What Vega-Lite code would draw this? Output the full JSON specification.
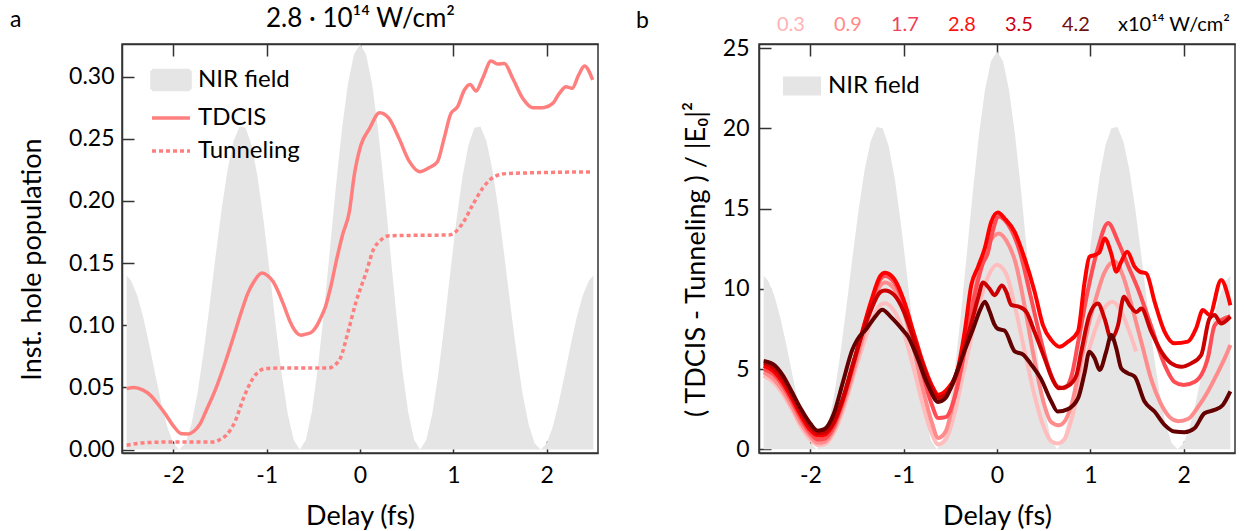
{
  "$schema": "https://vega.github.io/schema/vega-lite/v6.json",
  "padding": {"left": 9, "top": 4, "right": 0, "bottom": 0},
  "spacing": 161,
  "bounds": "flush",
  "resolve": {"scale": {"color": "independent", "fill": "independent"}, "legend": {"color": "independent", "fill": "independent"}},
  "config": {
    "font": "Lato",
    "view": {"stroke": "#333333", "strokeWidth": 1.5},
    "axis": {"domainColor": "#333333", "domainWidth": 1.5, "tickColor": "#333333", "tickWidth": 1.5, "tickSize": -12, "labelFontSize": 23, "labelColor": "black", "titleFontSize": 27, "titleFontWeight": "normal", "titleColor": "black", "grid": false, "labelFlush": false},
    "title": {"fontSize": 23, "fontWeight": "normal", "color": "black", "anchor": "start", "frame": "group"}
  },
  "datasets": {
    "nir": [
      {"t": -2.5, "a": 0.1401, "b": 10.821}, {"t": -2.451, "a": 0.1357, "b": 10.486}, {"t": -2.3865, "a": 0.1239, "b": 9.575}, {"t": -2.322, "a": 0.1062, "b": 8.203}, {"t": -2.2575, "a": 0.0842, "b": 6.505}, {"t": -2.193, "a": 0.0603, "b": 4.661}, {"t": -2.1285, "a": 0.0373, "b": 2.881}, {"t": -2.064, "a": 0.0179, "b": 1.381}, {"t": -1.9995, "a": 0.0047, "b": 0.366}, {"t": -1.935, "a": 0, "b": 0},
      {"t": -1.8705, "a": 0.005, "b": 0.39}, {"t": -1.806, "a": 0.0203, "b": 1.567}, {"t": -1.7415, "a": 0.0451, "b": 3.482}, {"t": -1.677, "a": 0.0777, "b": 6.002}, {"t": -1.6125, "a": 0.1155, "b": 8.923}, {"t": -1.548, "a": 0.1551, "b": 11.985}, {"t": -1.4835, "a": 0.1929, "b": 14.902}, {"t": -1.419, "a": 0.225, "b": 17.385}, {"t": -1.3545, "a": 0.2483, "b": 19.18}, {"t": -1.29, "a": 0.26, "b": 20.09},
      {"t": -1.2255, "a": 0.2589, "b": 20.005}, {"t": -1.161, "a": 0.2448, "b": 18.913}, {"t": -1.0965, "a": 0.2189, "b": 16.909}, {"t": -1.032, "a": 0.1836, "b": 14.185}, {"t": -0.9675, "a": 0.1426, "b": 11.014}, {"t": -0.903, "a": 0.1, "b": 7.728}, {"t": -0.8385, "a": 0.0605, "b": 4.676}, {"t": -0.774, "a": 0.0284, "b": 2.195}, {"t": -0.7095, "a": 0.0074, "b": 0.569}, {"t": -0.645, "a": 0, "b": 0},
      {"t": -0.5805, "a": 0.0076, "b": 0.582}, {"t": -0.516, "a": 0.0301, "b": 2.29}, {"t": -0.4515, "a": 0.0655, "b": 4.981}, {"t": -0.387, "a": 0.1105, "b": 8.407}, {"t": -0.3225, "a": 0.1609, "b": 12.238}, {"t": -0.258, "a": 0.2116, "b": 16.096}, {"t": -0.1935, "a": 0.2577, "b": 19.595}, {"t": -0.129, "a": 0.2943, "b": 22.385}, {"t": -0.0645, "a": 0.318, "b": 24.18}, {"t": 0, "a": 0.326, "b": 24.8},
      {"t": 0.0645, "a": 0.318, "b": 24.18}, {"t": 0.129, "a": 0.2943, "b": 22.385}, {"t": 0.1935, "a": 0.2577, "b": 19.595}, {"t": 0.258, "a": 0.2116, "b": 16.096}, {"t": 0.3225, "a": 0.1609, "b": 12.238}, {"t": 0.387, "a": 0.1105, "b": 8.407}, {"t": 0.4515, "a": 0.0655, "b": 4.981}, {"t": 0.516, "a": 0.0301, "b": 2.29}, {"t": 0.5805, "a": 0.0076, "b": 0.582}, {"t": 0.645, "a": 0, "b": 0},
      {"t": 0.7095, "a": 0.0074, "b": 0.569}, {"t": 0.774, "a": 0.0284, "b": 2.195}, {"t": 0.8385, "a": 0.0605, "b": 4.676}, {"t": 0.903, "a": 0.1, "b": 7.728}, {"t": 0.9675, "a": 0.1426, "b": 11.014}, {"t": 1.032, "a": 0.1836, "b": 14.185}, {"t": 1.0965, "a": 0.2189, "b": 16.909}, {"t": 1.161, "a": 0.2448, "b": 18.913}, {"t": 1.2255, "a": 0.2589, "b": 20.005}, {"t": 1.29, "a": 0.26, "b": 20.09},
      {"t": 1.3545, "a": 0.2483, "b": 19.18}, {"t": 1.419, "a": 0.225, "b": 17.385}, {"t": 1.4835, "a": 0.1929, "b": 14.902}, {"t": 1.548, "a": 0.1551, "b": 11.985}, {"t": 1.6125, "a": 0.1155, "b": 8.923}, {"t": 1.677, "a": 0.0777, "b": 6.002}, {"t": 1.7415, "a": 0.0451, "b": 3.482}, {"t": 1.806, "a": 0.0203, "b": 1.567}, {"t": 1.8705, "a": 0.005, "b": 0.39}, {"t": 1.935, "a": 0, "b": 0},
      {"t": 1.9995, "a": 0.0047, "b": 0.366}, {"t": 2.064, "a": 0.0179, "b": 1.381}, {"t": 2.1285, "a": 0.0373, "b": 2.881}, {"t": 2.193, "a": 0.0603, "b": 4.661}, {"t": 2.2575, "a": 0.0842, "b": 6.505}, {"t": 2.322, "a": 0.1062, "b": 8.203}, {"t": 2.3865, "a": 0.1239, "b": 9.575}, {"t": 2.451, "a": 0.1357, "b": 10.486}, {"t": 2.5, "a": 0.1401, "b": 10.821}
    ],
    "tdcis": [
      {"t": -2.5, "v": 0.049}, {"t": -2.42, "v": 0.05}, {"t": -2.33, "v": 0.048}, {"t": -2.25, "v": 0.044}, {"t": -2.16, "v": 0.036}, {"t": -2.08, "v": 0.028}, {"t": -2.0, "v": 0.019}, {"t": -1.91, "v": 0.0126}, {"t": -1.84, "v": 0.0125}, {"t": -1.78, "v": 0.0147}, {"t": -1.71, "v": 0.021}, {"t": -1.65, "v": 0.031}, {"t": -1.55, "v": 0.048}, {"t": -1.44, "v": 0.071}, {"t": -1.35, "v": 0.092}, {"t": -1.27, "v": 0.111}, {"t": -1.2, "v": 0.126}, {"t": -1.145, "v": 0.134}, {"t": -1.05, "v": 0.142}, {"t": -0.99, "v": 0.14}, {"t": -0.93, "v": 0.135}, {"t": -0.87, "v": 0.126}, {"t": -0.806, "v": 0.114}, {"t": -0.75, "v": 0.103}, {"t": -0.7, "v": 0.096}, {"t": -0.63, "v": 0.092}, {"t": -0.57, "v": 0.093}, {"t": -0.51, "v": 0.095}, {"t": -0.46, "v": 0.1}, {"t": -0.42, "v": 0.106}, {"t": -0.37, "v": 0.115}, {"t": -0.31, "v": 0.132}, {"t": -0.25, "v": 0.153}, {"t": -0.186, "v": 0.173}, {"t": -0.115, "v": 0.191}, {"t": -0.061, "v": 0.221}, {"t": 0.01, "v": 0.245}, {"t": 0.1, "v": 0.258}, {"t": 0.21, "v": 0.271}, {"t": 0.31, "v": 0.2665}, {"t": 0.42, "v": 0.25}, {"t": 0.53, "v": 0.2316}, {"t": 0.64, "v": 0.2236}, {"t": 0.74, "v": 0.2268}, {"t": 0.83, "v": 0.2316}, {"t": 0.9, "v": 0.25}, {"t": 0.975, "v": 0.2705}, {"t": 1.046, "v": 0.2759}, {"t": 1.118, "v": 0.2893}, {"t": 1.179, "v": 0.2938}, {"t": 1.243, "v": 0.2885}, {"t": 1.314, "v": 0.2987}, {"t": 1.404, "v": 0.3126}, {"t": 1.475, "v": 0.3102}, {"t": 1.547, "v": 0.3107}, {"t": 1.636, "v": 0.2987}, {"t": 1.743, "v": 0.2826}, {"t": 1.85, "v": 0.2751}, {"t": 1.957, "v": 0.2751}, {"t": 2.064, "v": 0.2785}, {"t": 2.136, "v": 0.2866}, {"t": 2.208, "v": 0.292}, {"t": 2.272, "v": 0.2906}, {"t": 2.343, "v": 0.3014}, {"t": 2.404, "v": 0.3086}, {"t": 2.493, "v": 0.2974}
    ],
    "tunnel": [
      {"t": -2.5, "v": 0.0035}, {"t": -2.33, "v": 0.0053}, {"t": -2.08, "v": 0.006}, {"t": -1.57, "v": 0.006}, {"t": -1.5, "v": 0.008}, {"t": -1.44, "v": 0.011}, {"t": -1.336, "v": 0.023}, {"t": -1.25, "v": 0.041}, {"t": -1.145, "v": 0.0575}, {"t": -1.02, "v": 0.065}, {"t": -0.89, "v": 0.0655}, {"t": -0.34, "v": 0.0655}, {"t": -0.27, "v": 0.068}, {"t": -0.21, "v": 0.0735}, {"t": -0.127, "v": 0.095}, {"t": -0.042, "v": 0.119}, {"t": 0.064, "v": 0.142}, {"t": 0.15, "v": 0.162}, {"t": 0.207, "v": 0.1673}, {"t": 0.314, "v": 0.172}, {"t": 0.957, "v": 0.1727}, {"t": 1.1, "v": 0.182}, {"t": 1.207, "v": 0.1968}, {"t": 1.314, "v": 0.2102}, {"t": 1.44, "v": 0.2196}, {"t": 1.565, "v": 0.222}, {"t": 2.47, "v": 0.2234}
    ],
    "diff": [
      {"I": "0.3", "t": -2.5, "v": 4.6}, {"I": "0.3", "t": -2.4, "v": 4.2}, {"I": "0.3", "t": -2.3, "v": 3.5}, {"I": "0.3", "t": -2.2, "v": 2.5}, {"I": "0.3", "t": -2.1, "v": 1.4}, {"I": "0.3", "t": -2.0, "v": 0.6}, {"I": "0.3", "t": -1.92, "v": 0.25}, {"I": "0.3", "t": -1.85, "v": 0.3}, {"I": "0.3", "t": -1.75, "v": 1.0}, {"I": "0.3", "t": -1.65, "v": 2.4}, {"I": "0.3", "t": -1.55, "v": 4.3}, {"I": "0.3", "t": -1.45, "v": 6.2}, {"I": "0.3", "t": -1.35, "v": 7.9}, {"I": "0.3", "t": -1.25, "v": 9.0}, {"I": "0.3", "t": -1.2, "v": 9.1}, {"I": "0.3", "t": -1.1, "v": 8.6}, {"I": "0.3", "t": -1.0, "v": 7.3}, {"I": "0.3", "t": -0.9, "v": 5.2}, {"I": "0.3", "t": -0.8, "v": 2.9}, {"I": "0.3", "t": -0.7, "v": 1.0}, {"I": "0.3", "t": -0.63, "v": 0.3}, {"I": "0.3", "t": -0.55, "v": 0.6}, {"I": "0.3", "t": -0.46, "v": 2.1}, {"I": "0.3", "t": -0.38, "v": 4.2}, {"I": "0.3", "t": -0.3, "v": 6.3}, {"I": "0.3", "t": -0.2, "v": 8.8}, {"I": "0.3", "t": -0.1, "v": 10.7}, {"I": "0.3", "t": 0.0, "v": 11.5}, {"I": "0.3", "t": 0.1, "v": 10.9}, {"I": "0.3", "t": 0.2, "v": 8.7}, {"I": "0.3", "t": 0.3, "v": 6.0}, {"I": "0.3", "t": 0.4, "v": 3.4}, {"I": "0.3", "t": 0.5, "v": 1.4}, {"I": "0.3", "t": 0.58, "v": 0.5}, {"I": "0.3", "t": 0.65, "v": 0.35}, {"I": "0.3", "t": 0.72, "v": 0.6}, {"I": "0.3", "t": 0.8, "v": 1.9}, {"I": "0.3", "t": 0.9, "v": 4.3}, {"I": "0.3", "t": 1.0, "v": 6.5}, {"I": "0.3", "t": 1.05, "v": 7.4}, {"I": "0.3", "t": 1.15, "v": 8.8}, {"I": "0.3", "t": 1.24, "v": 9.2}, {"I": "0.3", "t": 1.33, "v": 8.6}, {"I": "0.3", "t": 1.42, "v": 7.3}, {"I": "0.3", "t": 1.49, "v": 6.1},
      {"I": "0.9", "t": -2.5, "v": 4.8}, {"I": "0.9", "t": -2.4, "v": 4.4}, {"I": "0.9", "t": -2.3, "v": 3.7}, {"I": "0.9", "t": -2.2, "v": 2.7}, {"I": "0.9", "t": -2.1, "v": 1.6}, {"I": "0.9", "t": -2.0, "v": 0.8}, {"I": "0.9", "t": -1.92, "v": 0.4}, {"I": "0.9", "t": -1.85, "v": 0.45}, {"I": "0.9", "t": -1.75, "v": 1.2}, {"I": "0.9", "t": -1.65, "v": 2.7}, {"I": "0.9", "t": -1.55, "v": 4.6}, {"I": "0.9", "t": -1.45, "v": 6.7}, {"I": "0.9", "t": -1.35, "v": 8.7}, {"I": "0.9", "t": -1.25, "v": 10.2}, {"I": "0.9", "t": -1.2, "v": 10.4}, {"I": "0.9", "t": -1.1, "v": 10.0}, {"I": "0.9", "t": -1.0, "v": 8.6}, {"I": "0.9", "t": -0.9, "v": 6.4}, {"I": "0.9", "t": -0.8, "v": 3.9}, {"I": "0.9", "t": -0.7, "v": 1.7}, {"I": "0.9", "t": -0.63, "v": 0.7}, {"I": "0.9", "t": -0.55, "v": 1.1}, {"I": "0.9", "t": -0.48, "v": 2.6}, {"I": "0.9", "t": -0.38, "v": 5.5}, {"I": "0.9", "t": -0.3, "v": 8.0}, {"I": "0.9", "t": -0.24, "v": 9.8}, {"I": "0.9", "t": -0.16, "v": 11.8}, {"I": "0.9", "t": -0.1, "v": 12.7}, {"I": "0.9", "t": -0.03, "v": 13.3}, {"I": "0.9", "t": 0.02, "v": 13.45}, {"I": "0.9", "t": 0.1, "v": 13.0}, {"I": "0.9", "t": 0.2, "v": 11.6}, {"I": "0.9", "t": 0.3, "v": 8.8}, {"I": "0.9", "t": 0.4, "v": 5.6}, {"I": "0.9", "t": 0.5, "v": 2.9}, {"I": "0.9", "t": 0.58, "v": 1.7}, {"I": "0.9", "t": 0.66, "v": 1.5}, {"I": "0.9", "t": 0.72, "v": 1.7}, {"I": "0.9", "t": 0.8, "v": 2.8}, {"I": "0.9", "t": 0.9, "v": 5.5}, {"I": "0.9", "t": 1.0, "v": 8.2}, {"I": "0.9", "t": 1.05, "v": 9.2}, {"I": "0.9", "t": 1.15, "v": 11.0}, {"I": "0.9", "t": 1.26, "v": 11.7}, {"I": "0.9", "t": 1.35, "v": 10.8}, {"I": "0.9", "t": 1.45, "v": 8.8}, {"I": "0.9", "t": 1.55, "v": 6.6}, {"I": "0.9", "t": 1.65, "v": 4.4}, {"I": "0.9", "t": 1.75, "v": 2.9}, {"I": "0.9", "t": 1.85, "v": 2.0}, {"I": "0.9", "t": 1.94, "v": 1.75}, {"I": "0.9", "t": 2.05, "v": 1.9}, {"I": "0.9", "t": 2.15, "v": 2.6}, {"I": "0.9", "t": 2.26, "v": 3.6}, {"I": "0.9", "t": 2.35, "v": 4.6}, {"I": "0.9", "t": 2.45, "v": 5.8}, {"I": "0.9", "t": 2.5, "v": 6.5},
      {"I": "1.7", "t": -2.5, "v": 5.0}, {"I": "1.7", "t": -2.4, "v": 4.7}, {"I": "1.7", "t": -2.3, "v": 4.0}, {"I": "1.7", "t": -2.2, "v": 3.0}, {"I": "1.7", "t": -2.1, "v": 1.9}, {"I": "1.7", "t": -2.0, "v": 1.0}, {"I": "1.7", "t": -1.92, "v": 0.6}, {"I": "1.7", "t": -1.85, "v": 0.65}, {"I": "1.7", "t": -1.75, "v": 1.4}, {"I": "1.7", "t": -1.65, "v": 3.0}, {"I": "1.7", "t": -1.55, "v": 5.0}, {"I": "1.7", "t": -1.45, "v": 7.1}, {"I": "1.7", "t": -1.35, "v": 9.1}, {"I": "1.7", "t": -1.25, "v": 10.6}, {"I": "1.7", "t": -1.2, "v": 10.8}, {"I": "1.7", "t": -1.1, "v": 10.4}, {"I": "1.7", "t": -1.0, "v": 9.1}, {"I": "1.7", "t": -0.9, "v": 7.1}, {"I": "1.7", "t": -0.8, "v": 4.8}, {"I": "1.7", "t": -0.7, "v": 2.8}, {"I": "1.7", "t": -0.63, "v": 1.95}, {"I": "1.7", "t": -0.55, "v": 2.0}, {"I": "1.7", "t": -0.45, "v": 3.3}, {"I": "1.7", "t": -0.35, "v": 6.0}, {"I": "1.7", "t": -0.25, "v": 9.3}, {"I": "1.7", "t": -0.2, "v": 10.6}, {"I": "1.7", "t": -0.15, "v": 11.6}, {"I": "1.7", "t": -0.1, "v": 12.2}, {"I": "1.7", "t": -0.05, "v": 13.5}, {"I": "1.7", "t": 0.02, "v": 14.5}, {"I": "1.7", "t": 0.08, "v": 14.3}, {"I": "1.7", "t": 0.15, "v": 13.7}, {"I": "1.7", "t": 0.25, "v": 12.2}, {"I": "1.7", "t": 0.35, "v": 9.8}, {"I": "1.7", "t": 0.45, "v": 7.3}, {"I": "1.7", "t": 0.55, "v": 5.1}, {"I": "1.7", "t": 0.65, "v": 3.9}, {"I": "1.7", "t": 0.72, "v": 3.8}, {"I": "1.7", "t": 0.8, "v": 4.6}, {"I": "1.7", "t": 0.87, "v": 6.7}, {"I": "1.7", "t": 0.97, "v": 9.8}, {"I": "1.7", "t": 1.08, "v": 12.5}, {"I": "1.7", "t": 1.19, "v": 14.1}, {"I": "1.7", "t": 1.3, "v": 12.9}, {"I": "1.7", "t": 1.4, "v": 11.5}, {"I": "1.7", "t": 1.51, "v": 10.0}, {"I": "1.7", "t": 1.65, "v": 7.7}, {"I": "1.7", "t": 1.8, "v": 5.2}, {"I": "1.7", "t": 1.9, "v": 4.2}, {"I": "1.7", "t": 2.0, "v": 4.0}, {"I": "1.7", "t": 2.12, "v": 4.2}, {"I": "1.7", "t": 2.26, "v": 5.7}, {"I": "1.7", "t": 2.33, "v": 7.7}, {"I": "1.7", "t": 2.4, "v": 8.05}, {"I": "1.7", "t": 2.5, "v": 8.3},
      {"I": "2.8", "t": -2.5, "v": 5.2}, {"I": "2.8", "t": -2.4, "v": 4.9}, {"I": "2.8", "t": -2.3, "v": 4.2}, {"I": "2.8", "t": -2.2, "v": 3.2}, {"I": "2.8", "t": -2.1, "v": 2.1}, {"I": "2.8", "t": -2.0, "v": 1.2}, {"I": "2.8", "t": -1.92, "v": 0.85}, {"I": "2.8", "t": -1.85, "v": 0.9}, {"I": "2.8", "t": -1.75, "v": 1.6}, {"I": "2.8", "t": -1.65, "v": 3.1}, {"I": "2.8", "t": -1.55, "v": 5.1}, {"I": "2.8", "t": -1.45, "v": 7.2}, {"I": "2.8", "t": -1.35, "v": 9.2}, {"I": "2.8", "t": -1.25, "v": 10.8}, {"I": "2.8", "t": -1.2, "v": 11.0}, {"I": "2.8", "t": -1.1, "v": 10.6}, {"I": "2.8", "t": -1.0, "v": 9.3}, {"I": "2.8", "t": -0.9, "v": 7.4}, {"I": "2.8", "t": -0.8, "v": 5.5}, {"I": "2.8", "t": -0.7, "v": 4.0}, {"I": "2.8", "t": -0.63, "v": 3.4}, {"I": "2.8", "t": -0.525, "v": 3.8}, {"I": "2.8", "t": -0.418, "v": 5.05}, {"I": "2.8", "t": -0.346, "v": 7.33}, {"I": "2.8", "t": -0.275, "v": 10.24}, {"I": "2.8", "t": -0.203, "v": 11.37}, {"I": "2.8", "t": -0.132, "v": 12.51}, {"I": "2.8", "t": -0.061, "v": 14.18}, {"I": "2.8", "t": 0.01, "v": 14.75}, {"I": "2.8", "t": 0.082, "v": 14.38}, {"I": "2.8", "t": 0.189, "v": 13.55}, {"I": "2.8", "t": 0.296, "v": 11.89}, {"I": "2.8", "t": 0.403, "v": 9.82}, {"I": "2.8", "t": 0.492, "v": 7.74}, {"I": "2.8", "t": 0.582, "v": 6.8}, {"I": "2.8", "t": 0.671, "v": 6.39}, {"I": "2.8", "t": 0.76, "v": 6.7}, {"I": "2.8", "t": 0.867, "v": 7.33}, {"I": "2.8", "t": 0.939, "v": 10.44}, {"I": "2.8", "t": 0.99, "v": 11.99}, {"I": "2.8", "t": 1.046, "v": 12.1}, {"I": "2.8", "t": 1.1, "v": 12.3}, {"I": "2.8", "t": 1.153, "v": 13.14}, {"I": "2.8", "t": 1.224, "v": 12.2}, {"I": "2.8", "t": 1.278, "v": 11.07}, {"I": "2.8", "t": 1.331, "v": 11.69}, {"I": "2.8", "t": 1.395, "v": 12.31}, {"I": "2.8", "t": 1.474, "v": 11.38}, {"I": "2.8", "t": 1.528, "v": 11.07}, {"I": "2.8", "t": 1.6, "v": 10.96}, {"I": "2.8", "t": 1.688, "v": 9.2}, {"I": "2.8", "t": 1.795, "v": 7.33}, {"I": "2.8", "t": 1.902, "v": 6.6}, {"I": "2.8", "t": 2.045, "v": 6.71}, {"I": "2.8", "t": 2.134, "v": 7.54}, {"I": "2.8", "t": 2.206, "v": 8.68}, {"I": "2.8", "t": 2.277, "v": 8.37}, {"I": "2.8", "t": 2.402, "v": 10.55}, {"I": "2.8", "t": 2.473, "v": 9.6}, {"I": "2.8", "t": 2.5, "v": 8.98},
      {"I": "3.5", "t": -2.5, "v": 5.35}, {"I": "3.5", "t": -2.4, "v": 5.1}, {"I": "3.5", "t": -2.3, "v": 4.4}, {"I": "3.5", "t": -2.2, "v": 3.4}, {"I": "3.5", "t": -2.1, "v": 2.3}, {"I": "3.5", "t": -2.0, "v": 1.4}, {"I": "3.5", "t": -1.92, "v": 1.0}, {"I": "3.5", "t": -1.85, "v": 1.05}, {"I": "3.5", "t": -1.75, "v": 1.7}, {"I": "3.5", "t": -1.65, "v": 3.2}, {"I": "3.5", "t": -1.55, "v": 5.2}, {"I": "3.5", "t": -1.45, "v": 7.1}, {"I": "3.5", "t": -1.35, "v": 8.7}, {"I": "3.5", "t": -1.25, "v": 9.8}, {"I": "3.5", "t": -1.2, "v": 9.9}, {"I": "3.5", "t": -1.1, "v": 9.6}, {"I": "3.5", "t": -1.0, "v": 8.6}, {"I": "3.5", "t": -0.9, "v": 7.0}, {"I": "3.5", "t": -0.8, "v": 5.3}, {"I": "3.5", "t": -0.7, "v": 3.8}, {"I": "3.5", "t": -0.63, "v": 3.2}, {"I": "3.5", "t": -0.55, "v": 3.4}, {"I": "3.5", "t": -0.45, "v": 4.4}, {"I": "3.5", "t": -0.35, "v": 6.3}, {"I": "3.5", "t": -0.25, "v": 8.4}, {"I": "3.5", "t": -0.2, "v": 9.5}, {"I": "3.5", "t": -0.15, "v": 10.4}, {"I": "3.5", "t": -0.08, "v": 10.0}, {"I": "3.5", "t": -0.026, "v": 9.6}, {"I": "3.5", "t": 0.053, "v": 10.2}, {"I": "3.5", "t": 0.1, "v": 9.8}, {"I": "3.5", "t": 0.153, "v": 9.0}, {"I": "3.5", "t": 0.243, "v": 8.87}, {"I": "3.5", "t": 0.314, "v": 8.56}, {"I": "3.5", "t": 0.403, "v": 7.3}, {"I": "3.5", "t": 0.51, "v": 5.67}, {"I": "3.5", "t": 0.6, "v": 4.3}, {"I": "3.5", "t": 0.66, "v": 3.8}, {"I": "3.5", "t": 0.76, "v": 3.95}, {"I": "3.5", "t": 0.85, "v": 4.6}, {"I": "3.5", "t": 0.903, "v": 6.08}, {"I": "3.5", "t": 0.99, "v": 8.36}, {"I": "3.5", "t": 1.081, "v": 9.09}, {"I": "3.5", "t": 1.153, "v": 8.13}, {"I": "3.5", "t": 1.224, "v": 6.88}, {"I": "3.5", "t": 1.296, "v": 7.71}, {"I": "3.5", "t": 1.36, "v": 9.5}, {"I": "3.5", "t": 1.42, "v": 8.98}, {"I": "3.5", "t": 1.492, "v": 8.55}, {"I": "3.5", "t": 1.546, "v": 8.77}, {"I": "3.5", "t": 1.653, "v": 7.33}, {"I": "3.5", "t": 1.76, "v": 6.08}, {"I": "3.5", "t": 1.867, "v": 5.35}, {"I": "3.5", "t": 1.974, "v": 5.14}, {"I": "3.5", "t": 2.081, "v": 5.35}, {"I": "3.5", "t": 2.188, "v": 5.87}, {"I": "3.5", "t": 2.277, "v": 8.15}, {"I": "3.5", "t": 2.33, "v": 8.36}, {"I": "3.5", "t": 2.402, "v": 7.84}, {"I": "3.5", "t": 2.5, "v": 8.26},
      {"I": "4.2", "t": -2.5, "v": 5.5}, {"I": "4.2", "t": -2.4, "v": 5.3}, {"I": "4.2", "t": -2.3, "v": 4.65}, {"I": "4.2", "t": -2.2, "v": 3.6}, {"I": "4.2", "t": -2.1, "v": 2.5}, {"I": "4.2", "t": -2.0, "v": 1.6}, {"I": "4.2", "t": -1.92, "v": 1.15}, {"I": "4.2", "t": -1.85, "v": 1.25}, {"I": "4.2", "t": -1.75, "v": 2.2}, {"I": "4.2", "t": -1.65, "v": 4.2}, {"I": "4.2", "t": -1.55, "v": 6.2}, {"I": "4.2", "t": -1.5, "v": 6.8}, {"I": "4.2", "t": -1.4, "v": 7.5}, {"I": "4.2", "t": -1.3, "v": 8.3}, {"I": "4.2", "t": -1.23, "v": 8.7}, {"I": "4.2", "t": -1.13, "v": 8.2}, {"I": "4.2", "t": -1.02, "v": 7.5}, {"I": "4.2", "t": -0.95, "v": 7.0}, {"I": "4.2", "t": -0.88, "v": 6.1}, {"I": "4.2", "t": -0.74, "v": 4.0}, {"I": "4.2", "t": -0.63, "v": 2.95}, {"I": "4.2", "t": -0.55, "v": 3.2}, {"I": "4.2", "t": -0.45, "v": 4.5}, {"I": "4.2", "t": -0.35, "v": 6.1}, {"I": "4.2", "t": -0.25, "v": 7.6}, {"I": "4.2", "t": -0.18, "v": 8.7}, {"I": "4.2", "t": -0.13, "v": 9.2}, {"I": "4.2", "t": -0.08, "v": 8.6}, {"I": "4.2", "t": -0.03, "v": 7.8}, {"I": "4.2", "t": 0.01, "v": 7.5}, {"I": "4.2", "t": 0.08, "v": 7.4}, {"I": "4.2", "t": 0.19, "v": 6.1}, {"I": "4.2", "t": 0.28, "v": 5.9}, {"I": "4.2", "t": 0.37, "v": 5.25}, {"I": "4.2", "t": 0.47, "v": 4.4}, {"I": "4.2", "t": 0.58, "v": 3.0}, {"I": "4.2", "t": 0.65, "v": 2.35}, {"I": "4.2", "t": 0.76, "v": 2.5}, {"I": "4.2", "t": 0.87, "v": 3.2}, {"I": "4.2", "t": 0.94, "v": 4.8}, {"I": "4.2", "t": 0.99, "v": 6.08}, {"I": "4.2", "t": 1.046, "v": 5.67}, {"I": "4.2", "t": 1.1, "v": 4.94}, {"I": "4.2", "t": 1.17, "v": 6.08}, {"I": "4.2", "t": 1.224, "v": 7.12}, {"I": "4.2", "t": 1.278, "v": 6.29}, {"I": "4.2", "t": 1.331, "v": 5.04}, {"I": "4.2", "t": 1.403, "v": 4.73}, {"I": "4.2", "t": 1.474, "v": 4.53}, {"I": "4.2", "t": 1.581, "v": 2.97}, {"I": "4.2", "t": 1.688, "v": 2.35}, {"I": "4.2", "t": 1.795, "v": 1.52}, {"I": "4.2", "t": 1.902, "v": 1.1}, {"I": "4.2", "t": 2.009, "v": 1.06}, {"I": "4.2", "t": 2.116, "v": 1.31}, {"I": "4.2", "t": 2.223, "v": 2.24}, {"I": "4.2", "t": 2.33, "v": 2.45}, {"I": "4.2", "t": 2.42, "v": 2.76}, {"I": "4.2", "t": 2.5, "v": 3.6}
    ]
  },
  "hconcat": [
    {
      "width": 476,
      "height": 409,
      "title": {"text": "a", "dx": -112, "dy": 31},
      "resolve": {"axis": {"x": "independent"}},
      "layer": [
        {
          "data": {"name": "nir"},
          "mark": {"type": "area", "clip": true},
          "encoding": {
            "x": {"field": "t", "type": "quantitative", "scale": {"domain": [-2.55, 2.55], "nice": false, "zero": false},
                  "axis": {"orient": "bottom", "values": [-2, -1, 0, 1, 2], "labelExpr": "replace(datum.label, '\u2212', '-')", "title": "Delay (fs)", "labelPadding": 23, "titlePadding": 16}},
            "y": {"field": "a", "type": "quantitative", "scale": {"domain": [-0.0028, 0.3263], "nice": false, "zero": false},
                  "axis": {"orient": "left", "values": [0, 0.05, 0.1, 0.15, 0.2, 0.25, 0.3], "format": ".2f", "title": "Inst. hole population", "labelPadding": 20, "titlePadding": 22, "titleY": 215}},
            "color": {"datum": "NIR field", "scale": {"domain": ["NIR field", "TDCIS", "Tunneling"], "range": ["#e5e5e5", "#ff7f7f", "#ff7f7f"]},
                      "legend": {"orient": "none", "legendX": 28, "legendY": 15, "title": null, "symbolSize": 1444, "labelFontSize": 24, "labelColor": "black", "labelOffset": 6, "rowPadding": 0, "labelBaseline": "middle",
                        "encode": {"symbols": {"update": {
                          "shape": {"signal": "datum.value === 'NIR field' ? 'M-1,-0.5H1V0.5H-1Z' : 'stroke'"},
                          "fill": {"signal": "datum.value === 'NIR field' ? '#e5e5e5' : 'transparent'"},
                          "stroke": {"signal": "datum.value === 'NIR field' ? 'transparent' : '#ff7f7f'"},
                          "strokeWidth": {"value": 3.5},
                          "strokeDash": {"signal": "datum.value === 'Tunneling' ? [4, 3] : [1, 0]"},
                          "opacity": {"value": 1}
                        }}}}}
          }
        },
        {
          "data": {"name": "tdcis"},
          "mark": {"type": "line", "strokeWidth": 3.5, "interpolate": "monotone", "clip": true},
          "encoding": {
            "x": {"field": "t", "type": "quantitative", "axis": {"orient": "top", "values": [-2, -1, 0, 1, 2], "labels": false, "title": "2.8 ∙ 10¹⁴ W/cm²", "titleFontSize": 26, "titlePadding": 12}},
            "y": {"field": "v", "type": "quantitative"},
            "color": {"datum": "TDCIS"}
          }
        },
        {
          "data": {"name": "tunnel"},
          "mark": {"type": "line", "strokeWidth": 3.5, "strokeDash": [4, 3], "interpolate": "monotone", "clip": true},
          "encoding": {
            "x": {"field": "t", "type": "quantitative", "axis": null},
            "y": {"field": "v", "type": "quantitative"},
            "color": {"datum": "Tunneling"}
          }
        }
      ]
    },
    {
      "width": 476,
      "height": 409,
      "title": {"text": "b", "dx": -123, "dy": 22},
      "resolve": {"axis": {"x": "independent"}},
      "layer": [
        {
          "data": {"name": "nir"},
          "mark": {"type": "area", "clip": true},
          "encoding": {
            "x": {"field": "t", "type": "quantitative", "scale": {"domain": [-2.55, 2.55], "nice": false, "zero": false},
                  "axis": {"orient": "bottom", "values": [-2, -1, 0, 1, 2], "labelExpr": "replace(datum.label, '\u2212', '-')", "title": "Delay (fs)", "labelPadding": 23, "titlePadding": 16}},
            "y": {"field": "b", "type": "quantitative", "scale": {"domain": [-0.236, 25.26], "nice": false, "zero": false},
                  "axis": {"orient": "left", "values": [0, 5, 10, 15, 20, 25], "title": "( TDCIS - Tunneling ) / |E₀|²", "labelPadding": 22, "titlePadding": 12, "titleY": 215}},
            "fill": {"datum": "NIR field", "scale": {"domain": ["NIR field"], "range": ["#e5e5e5"]},
                     "legend": {"orient": "none", "legendX": 23, "legendY": 22, "title": null, "symbolSize": 1444, "labelFontSize": 24, "labelColor": "black", "labelOffset": 6, "labelBaseline": "middle",
                       "encode": {"symbols": {"update": {
                         "shape": {"value": "M-1,-0.5H1V0.5H-1Z"},
                         "fill": {"value": "#e5e5e5"},
                         "stroke": {"value": "transparent"},
                         "opacity": {"value": 1}
                       }}}}}
          }
        },
        {
          "data": {"name": "diff"},
          "mark": {"type": "line", "strokeWidth": 4, "interpolate": "monotone", "clip": true},
          "encoding": {
            "x": {"field": "t", "type": "quantitative", "axis": {"orient": "top", "values": [-2, -1, 0, 1, 2], "labels": false, "title": null}},
            "y": {"field": "v", "type": "quantitative"},
            "color": {"field": "I", "type": "nominal",
                      "scale": {"domain": ["0.3", "0.9", "1.7", "2.8", "3.5", "4.2"], "range": ["#ffbdbd", "#ff8c8c", "#ff4d55", "#ff0000", "#cc0000", "#650000"]},
                      "legend": {"orient": "none", "legendX": -2, "legendY": -29, "direction": "horizontal", "title": "x10¹⁴ W/cm²", "titleOrient": "right", "titleFontSize": 20, "titleFontWeight": "normal", "titleColor": "black", "titlePadding": 28,
                        "symbolSize": 0, "symbolOpacity": 0, "symbolStrokeWidth": 0, "labelOffset": 0, "columnPadding": 9, "labelFontSize": 20,
                        "encode": {"labels": {"update": {"fill": {"signal": "datum.value === '0.3' ? '#ffb3b3' : datum.value === '0.9' ? '#ff8a8a' : datum.value === '1.7' ? '#f0405a' : datum.value === '2.8' ? '#ff1010' : datum.value === '3.5' ? '#cc0010' : '#701010'"}}}}}}
          }
        }
      ]
    }
  ]
}
